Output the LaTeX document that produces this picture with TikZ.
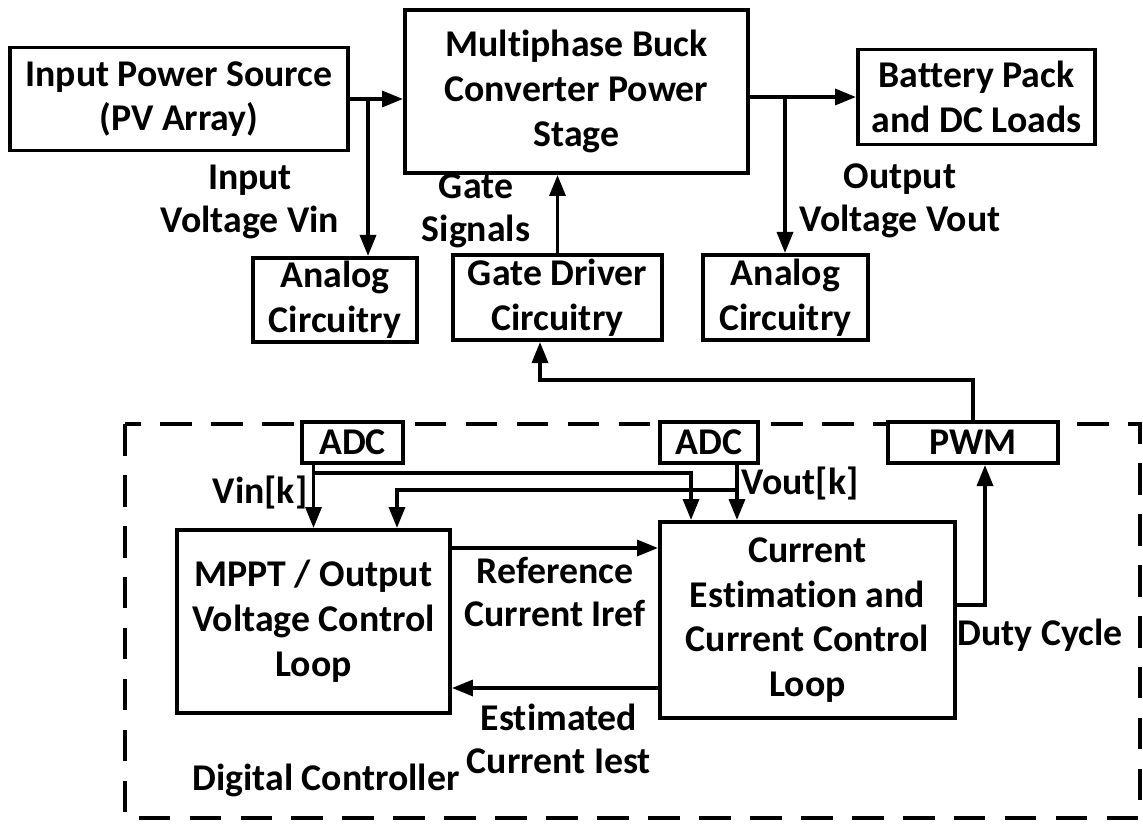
\documentclass[tikz,border=0pt]{standalone}
\usepackage{fontspec}
\setmainfont{Carlito}[Ligatures=NoCommon]
\usetikzlibrary{arrows.meta}

\begin{document}
\begin{tikzpicture}[x=0.02cm, y=-0.02cm,
    blk/.style={rectangle, draw, line width=2.2pt, align=center, font=\fontsize{21.5}{25.5}\selectfont\bfseries, inner sep=0pt},
    lbl/.style={align=center, font=\fontsize{21.5}{24.5}\selectfont\bfseries, inner sep=0pt},
    arr/.style={line width=2.2pt, -{Triangle[length=12pt, width=9pt]}},
    wire/.style={line width=2.2pt}]

    \useasboundingbox (0,0) rectangle (1143,824);

    % Digital controller frame
    \draw[line width=2.4pt, dash pattern=on 18pt off 11pt] (125,424) rectangle (1140,818);

    % Row 1: Power path
    \node[blk, minimum width=6.76cm, minimum height=2.06cm] (src) at (179,99) {Input Power Source\\(PV Array)};
    \node[blk, minimum width=6.86cm, minimum height=3.26cm] (buck) at (576.5,91.5) {Multiphase Buck\\Converter Power\\Stage};
    \node[blk, minimum width=4.74cm, minimum height=1.9cm] (batt) at (976.5,97) {Battery Pack\\and DC Loads};

    % Row 2: Sensing and gate driver
    \node[blk, minimum width=3.28cm, minimum height=1.68cm] (anL) at (335,300) {Analog\\Circuitry};
    \node[blk, minimum width=4.18cm, minimum height=1.7cm] (gdrv) at (557.5,297.5) {Gate Driver\\Circuitry};
    \node[blk, minimum width=3.3cm, minimum height=1.7cm] (anR) at (785.5,297.5) {Analog\\Circuitry};

    % Row 3: Converters
    \node[blk, minimum width=2.02cm, minimum height=0.82cm, fill=white] (adc1) at (352.5,442.5) {ADC};
    \node[blk, minimum width=1.96cm, minimum height=0.82cm, fill=white] (adc2) at (709,442.5) {ADC};
    \node[blk, minimum width=3.4cm, minimum height=0.82cm, fill=white] (pwm) at (973,442.5) {PWM};

    % Row 4: Control loops
    \node[blk, minimum width=5.46cm, minimum height=3.66cm] (mppt) at (313.5,621.5) {MPPT / Output\\Voltage Control\\Loop};
    \node[blk, minimum width=5.9cm, minimum height=3.92cm] (cur) at (807.5,620) {Current\\Estimation and\\Current Control\\Loop};

    % Tap points
    \coordinate (vtap) at (368,0);
    \coordinate (otap) at (785,0);

    % Labels
    \node[lbl] (lvin) at (250,202) {Input\\Voltage Vin};
    \node[lbl] (lgate) at (476,211) {Gate\\Signals};
    \node[lbl] (lvout) at (900,201) {Output\\Voltage Vout};
    \node[lbl] (lvink) at (260,492) {Vin[k]};
    \node[lbl] (lvoutk) at (800,483) {Vout[k]};
    \node[lbl] (lref) at (555,592) {Reference\\Current Iref};
    \node[lbl] (lest) at (559,739) {Estimated\\Current Iest};
    \node[lbl] (lduty) at (1040,635) {Duty Cycle};
    \node[lbl] (ldig) at (326,780) {Digital Controller};

    % Arrows
    \draw[arr] (src.east) -- (src.east -| buck.west);
    \draw[arr] (vtap |- src.east) -- (vtap |- anL.north);
    \draw[arr] (buck.east |- batt.west) -- (batt.west);
    \draw[arr] (otap |- batt.west) -- (otap |- anR.north);
    \draw[arr] (gdrv.north) -- (gdrv.north |- buck.south);
    \draw[arr] (pwm.north) -- (pwm.north |- 0,380) -| ([xshift=-0.35cm]gdrv.south);
    \draw[arr] (adc1.south -| mppt.north) -- (mppt.north);
    \draw[arr] (mppt.north |- 0,473) -| ([xshift=-2.33cm]cur.north);
    \draw[arr] ([xshift=0.56cm]adc2.south) -- ([xshift=0.56cm]adc2.south |- cur.north);
    \draw[arr] ([xshift=0.56cm]adc2.south |- 0,490) -| ([xshift=1.67cm]mppt.north);
    \draw[arr] (mppt.east |- 0,548) -- (cur.west |- 0,548);
    \draw[arr] (cur.west |- 0,688) -- (mppt.east |- 0,688);
    \draw[arr] (cur.east |- 0,605) -| ([xshift=0.24cm]pwm.south);
\end{tikzpicture}
\end{document}
